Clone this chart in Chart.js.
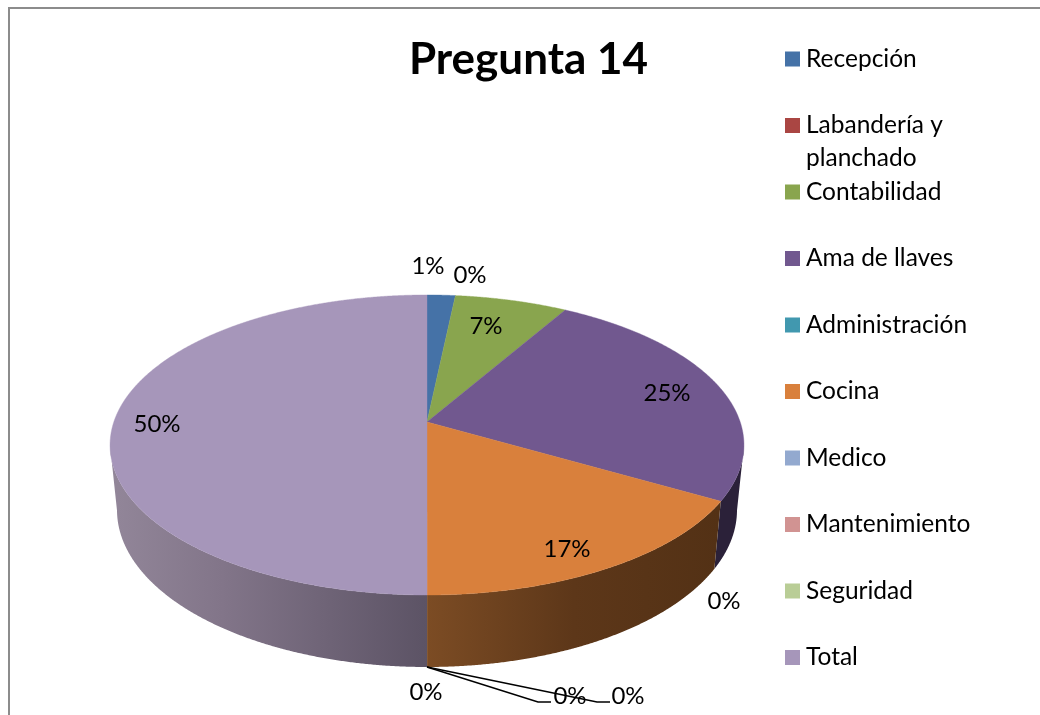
<!DOCTYPE html>
<html><head><meta charset="utf-8">
<style>
html,body{margin:0;padding:0;background:#fff;width:1040px;height:715px;overflow:hidden}
#frame{position:absolute;left:8px;top:7px;right:-10px;bottom:-10px;border-left:2px solid #8c8c8c;border-top:2px solid #8c8c8c}
#wrap{position:absolute;left:0;top:0;width:1040px;height:715px}
</style>
<script src="https://cdn.jsdelivr.net/npm/chart.js@4"></script>
</head><body>
<div id="frame"></div>
<div id="wrap"><canvas id="c" width="1040" height="715"></canvas></div>
<script>
const chartTitle = 'Pregunta 14';
const categories = ['Recepción','Labandería y planchado','Contabilidad','Ama de llaves','Administración','Cocina','Medico','Mantenimiento','Seguridad','Total'];
const seriesValues = [1.67,0,6.66,25,0,16.67,0,0,0,50];
const percentLabels = ['1%','0%','7%','25%','0%','17%','0%','0%','0%','50%'];
const sliceColors = ['#4572A7','#AA4643','#89A54E','#71588F','#4198AF','#D9803C','#93A9CF','#D19392','#B9CD96','#A696BA'];

// Perspective geometry of the tilted disc
const G = {cx:427, apexY:422, a:313.2, b:146.5, k:0.1533, topCy:445, topRx:317, topRy:150, lowCy:510, lowRx:310, lowRy:157};
const wallStops = {
  3:[[0,'#2b2139'],[1,'#2b2139']],
  5:[[0,'#7c4c24'],[0.5,'#5d3719'],[1,'#533115']],
  9:[[0,'#928699'],[0.35,'#827589'],[1,'#5c5365']]
};
const wallSpan = {3:[700,745],5:[427,720],9:[112,427]};
const labelSpots = [[428,266],[470,275],[486,326],[667,393],[724,601],[567,549],[426,692],[570,696],[628,696],[157,424]];
const leaderLines = [[[427,667],[538,702],[551,702]],[[427,667],[597,702],[610,702]]];

function topPt(th){
  const x=Math.sin(th), y=-Math.cos(th), d=1-G.k*y;
  return [G.cx+G.a*x/d, G.apexY+G.b*y/d];
}
function lowPt(p){
  const c=(p[0]-G.cx)/G.topRx, s=(p[1]-G.topCy)/G.topRy, n=Math.hypot(c,s)||1;
  return [G.cx+G.lowRx*c/n, G.lowCy+G.lowRy*s/n];
}
const disc3d = {
  id:'disc3d',
  beforeDatasetsDraw(chart){
    const ctx=chart.ctx, arcs=chart.getDatasetMeta(0).data, step=Math.PI/720;
    const range=(el)=>[el.startAngle+Math.PI/2, el.endAngle+Math.PI/2];
    // side walls
    arcs.forEach((el,i)=>{
      const [s,e]=range(el); if(e-s<1e-6) return;
      const tops=[];
      for(let t=s;t<e+step/2;t+=step){const p=topPt(Math.min(t,e)); if(p[1]>=G.topCy) tops.push(p);}
      if(tops.length<2) return;
      const span=wallSpan[i]||[G.cx-G.topRx,G.cx+G.topRx];
      const g=ctx.createLinearGradient(span[0],0,span[1],0);
      (wallStops[i]||[[0,'#555'],[1,'#555']]).forEach(st=>g.addColorStop(st[0],st[1]));
      ctx.beginPath();
      tops.forEach((p,j)=>j?ctx.lineTo(p[0],p[1]):ctx.moveTo(p[0],p[1]));
      tops.slice().reverse().forEach(p=>{const q=lowPt(p);ctx.lineTo(q[0],q[1]);});
      ctx.closePath(); ctx.fillStyle=g; ctx.fill();
    });
    // top face
    arcs.forEach((el,i)=>{
      const [s,e]=range(el); if(e-s<1e-6) return;
      ctx.beginPath(); ctx.moveTo(G.cx,G.apexY);
      for(let t=s;t<e+step/2;t+=step){const p=topPt(Math.min(t,e));ctx.lineTo(p[0],p[1]);}
      ctx.closePath(); ctx.fillStyle=sliceColors[i]; ctx.fill();
      ctx.strokeStyle=sliceColors[i]; ctx.lineWidth=0.4; ctx.stroke();
    });
    // leader lines
    ctx.strokeStyle='#000'; ctx.lineWidth=1.5; ctx.lineJoin='miter';
    leaderLines.forEach(l=>{ctx.beginPath();l.forEach((p,j)=>j?ctx.lineTo(p[0],p[1]):ctx.moveTo(p[0],p[1]));ctx.stroke();});
    // percentage labels
    ctx.font='24px Lato'; ctx.fillStyle='#000'; ctx.textAlign='center'; ctx.textBaseline='middle';
    percentLabels.forEach((t,i)=>ctx.fillText(t,labelSpots[i][0],labelSpots[i][1]));
    return false;
  },
  afterLayout(chart){
    const L=chart.legend, P=chart.options.plugins.legend.labels.padding;
    L.left=791.25-P; L.right=1040; L.top=46.75-P; L.bottom=2000;
    const T=chart.titleBlock;
    T.left=328.5; T.right=728.5; T.top=60-T.options.font.size*0.6; T.bottom=T.top+60;
  },
  afterDraw(chart){
    const ctx=chart.ctx, f=chart.options.plugins.legend.labels.font;
    ctx.save(); ctx.font=f.size+'px Lato'; ctx.fillStyle='#000'; ctx.textAlign='left'; ctx.textBaseline='middle';
    ctx.fillText(categories[1].split(' ').slice(2).join(' '),806,158);
    ctx.restore();
  }
};
new Chart(document.getElementById('c'),{
  type:'pie',
  data:{labels:categories,datasets:[{data:seriesValues,backgroundColor:sliceColors,borderWidth:0}]},
  plugins:[disc3d],
  options:{
    responsive:false,animation:false,
    events:[],
    layout:{padding:0},
    plugins:{
      tooltip:{enabled:false},
      title:{display:true,text:chartTitle,color:'#000',padding:0,font:{family:'Lato',size:44,weight:'bold'}},
      legend:{position:'right',align:'start',labels:{
        boxWidth:2.5,boxHeight:2.5,padding:42,color:'#000',font:{family:'Lato',size:24.5},
        generateLabels(chart){
          return categories.map((c,i)=>({
            text:i===1?c.split(' ').slice(0,2).join(' '):c,
            fillStyle:sliceColors[i],strokeStyle:sliceColors[i],lineWidth:12.5,hidden:false,index:i,fontColor:'#000'
          }));
        }
      }}
    }
  }
});
</script>
</body></html>
